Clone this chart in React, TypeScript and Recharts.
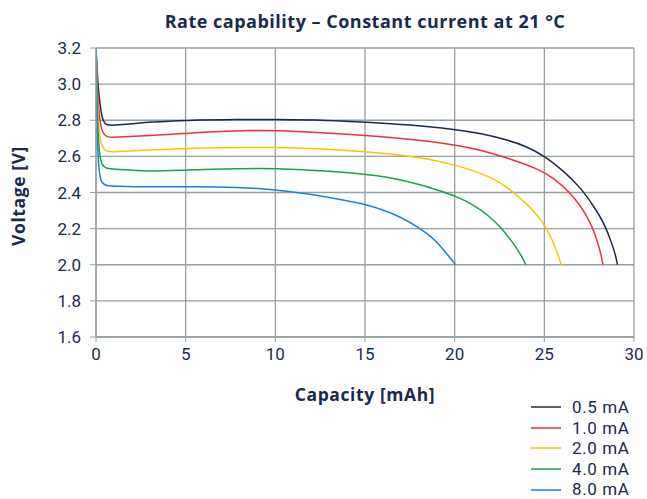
import { CartesianGrid, Line, LineChart, XAxis, YAxis } from "recharts";

const FONT = "'Open Sans', 'Noto Sans', sans-serif";
const NUM_FONT = "Roboto, 'Open Sans', sans-serif";
const INK = "#1b2a4a";
const GRID = "#95a19f";

const xTicks = [0, 5, 10, 15, 20, 25, 30];
const yTicks = [1.6, 1.8, 2.0, 2.2, 2.4, 2.6, 2.8, 3.0, 3.2];

const cap05 = [0, 0.1, 0.25, 0.4, 0.6, 1, 2, 3, 5, 8, 10, 13, 15, 17.5, 20, 21.45, 23, 24, 25.04, 26.1, 27.04, 27.78, 28.34, 28.8, 29.0, 29.08];
const volt05 = [3.2, 3.0, 2.86, 2.79, 2.772, 2.772, 2.78, 2.79, 2.8, 2.805, 2.805, 2.8, 2.79, 2.775, 2.75, 2.727, 2.69, 2.655, 2.6, 2.517, 2.425, 2.32, 2.23, 2.11, 2.04, 2.0];

const cap10 = [0, 0.08, 0.2, 0.35, 0.6, 1, 3, 5, 6.4, 9, 10, 12, 15.87, 18, 20.06, 21.45, 23, 24.8, 25.5, 26.38, 27.04, 27.6, 28.0, 28.2, 28.27];
const volt10 = [3.2, 2.95, 2.8, 2.73, 2.705, 2.705, 2.715, 2.727, 2.737, 2.745, 2.743, 2.735, 2.71, 2.69, 2.663, 2.636, 2.59, 2.525, 2.48, 2.405, 2.325, 2.23, 2.12, 2.04, 2.0];

const cap20 = [0, 0.07, 0.18, 0.32, 0.6, 1, 3, 5, 8, 10, 12, 15.87, 18, 20.06, 21.45, 22.5, 23.3, 24.2, 24.8, 25.3, 25.6, 25.85, 25.94];
const volt20 = [3.2, 2.9, 2.72, 2.65, 2.625, 2.625, 2.635, 2.645, 2.65, 2.65, 2.645, 2.62, 2.595, 2.554, 2.507, 2.46, 2.4, 2.32, 2.25, 2.17, 2.1, 2.03, 2.0];

const cap40 = [0, 0.06, 0.15, 0.3, 0.6, 1, 3, 5, 8, 10, 13, 15.87, 17, 18.1, 19, 20.06, 21, 21.8, 22.5, 23, 23.4, 23.75, 23.97];
const volt40 = [3.2, 2.85, 2.64, 2.55, 2.532, 2.53, 2.515, 2.525, 2.533, 2.535, 2.52, 2.494, 2.47, 2.443, 2.415, 2.38, 2.335, 2.28, 2.215, 2.155, 2.1, 2.045, 2.0];

const cap80 = [0, 0.05, 0.13, 0.27, 0.6, 1, 3, 5, 8, 10, 12, 14, 15, 15.87, 17, 18.1, 18.7, 19.2, 19.6, 19.85, 20.06];
const volt80 = [3.2, 2.8, 2.54, 2.45, 2.437, 2.435, 2.43, 2.432, 2.43, 2.415, 2.39, 2.355, 2.335, 2.309, 2.265, 2.2, 2.155, 2.105, 2.055, 2.025, 2.0];

const zip = (xs: number[], ys: number[]) => xs.map((x, i) => ({ x, v: ys[i] }));

const series = [
  { name: "0.5 mA", color: "#1b2a4a", data: zip(cap05, volt05) },
  { name: "1.0 mA", color: "#e8333c", data: zip(cap10, volt10) },
  { name: "2.0 mA", color: "#f9c500", data: zip(cap20, volt20) },
  { name: "4.0 mA", color: "#13a24c", data: zip(cap40, volt40) },
  { name: "8.0 mA", color: "#1f80d0", data: zip(cap80, volt80) },
];

function LegendBox() {
  return (
    <div style={{ position: "absolute", left: 531, top: 397, fontFamily: NUM_FONT, fontSize: 17, color: INK, lineHeight: "20.6px", letterSpacing: 0.6 }}>
      {series.map((s) => (
        <div key={s.name} style={{ display: "flex", alignItems: "center", height: 20.6 }}>
          <svg width={30} height={4} style={{ marginRight: 11 }}>
            <line x1={0} x2={30} y1={2} y2={2} stroke={s.color} strokeWidth={1.5} />
          </svg>
          <span>{s.name}</span>
        </div>
      ))}
    </div>
  );
}

const labelStyle = { fontFamily: FONT, fontWeight: 700, fontSize: 17.5, color: INK, letterSpacing: 0.6 } as const;

export default function App() {
  const tick = { fontSize: 17, fill: INK, fontFamily: NUM_FONT };
  return (
    <div style={{ position: "absolute", left: 0, top: 0, width: 647, height: 499, background: "#fff", overflow: "hidden" }}>
      <div style={{ ...labelStyle, position: "absolute", left: 0, width: 730, top: 9, textAlign: "center", fontSize: 18, letterSpacing: 0.5 }}>
        Rate capability – Constant current at 21 °C
      </div>
      <div style={{ ...labelStyle, position: "absolute", left: 18, top: 196, transform: "translate(-50%, -50%) rotate(-90deg)", whiteSpace: "nowrap" }}>
        Voltage [V]
      </div>
      <div style={{ ...labelStyle, position: "absolute", left: 0, width: 730, top: 382, textAlign: "center" }}>
        Capacity [mAh]
      </div>
      <LineChart width={647} height={499} margin={{ top: 48, right: 13, bottom: 132, left: 36 }}>
        <CartesianGrid stroke={GRID} strokeWidth={1.3} />
        <XAxis
          type="number"
          dataKey="x"
          domain={[0, 30]}
          ticks={xTicks}
          allowDataOverflow
          tick={tick}
          tickLine={{ stroke: GRID }}
          axisLine={{ stroke: GRID, strokeWidth: 1.3 }}
          tickSize={5}
          tickMargin={6}
          height={30}
        />
        <YAxis
          type="number"
          dataKey="v"
          domain={[1.6, 3.2]}
          ticks={yTicks}
          allowDataOverflow
          tickFormatter={(v: number) => v.toFixed(1)}
          tick={tick}
          tickLine={{ stroke: GRID }}
          axisLine={{ stroke: GRID, strokeWidth: 1.3 }}
          tickSize={6}
          tickMargin={9}
          width={60}
        />
        {series.map((s) => (
          <Line
            key={s.name}
            data={s.data}
            dataKey="v"
            name={s.name}
            type="basis"
            stroke={s.color}
            strokeWidth={1.5}
            dot={false}
            isAnimationActive={false}
          />
        ))}
      </LineChart>
      <LegendBox />
    </div>
  );
}
